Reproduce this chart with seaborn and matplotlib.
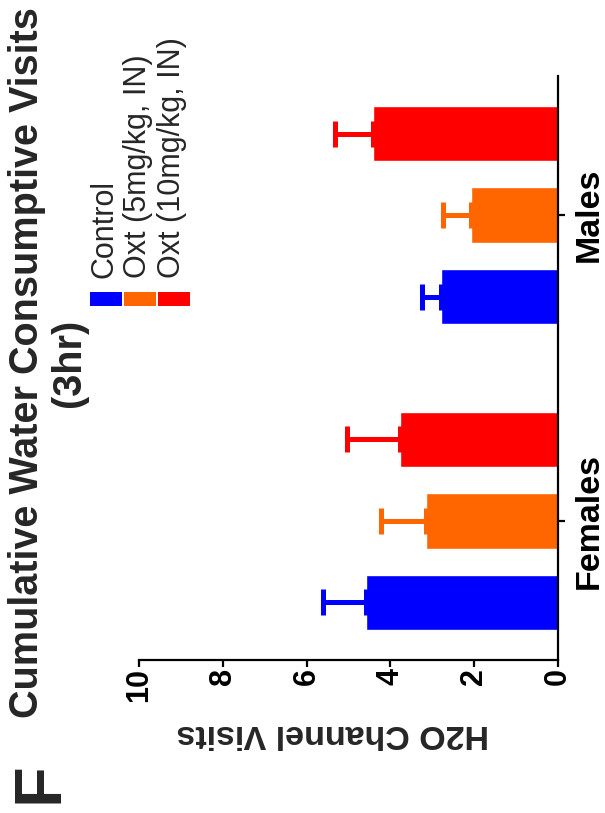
import matplotlib
matplotlib.use("Agg")
import matplotlib.pyplot as plt
from matplotlib.patches import Rectangle
import seaborn as sns
import pandas as pd
import numpy as np

# ---- data ----
sexes = ["Females", "Males"]
groups = ["Control", "Oxt (5mg/kg, IN)", "Oxt (10mg/kg, IN)"]
colors = ["#0000FF", "#FF6600", "#FF0000"]
means_females = [4.58, 3.15, 3.77]
means_males = [2.79, 2.08, 4.41]
sem_females = [1.03, 1.07, 1.27]
sem_males = [0.46, 0.66, 0.91]
value_ticks = [0, 2, 4, 6, 8, 10]

rows = []
for g, mf, mm, ef, em in zip(groups, means_females, means_males, sem_females, sem_males):
    rows.append({"sex": "Females", "group": g, "visits": mf, "err": ef})
    rows.append({"sex": "Males", "group": g, "visits": mm, "err": em})
df = pd.DataFrame(rows)

sns.set_style("ticks")
plt.rcParams["font.family"] = ["Liberation Sans", "DejaVu Sans"]

W, H = 605, 813
fig = plt.figure(figsize=(W / 100, H / 100), dpi=100)
ax = fig.add_axes([139 / W, 1 - 660 / H, (558 - 139) / W, (660 - 76) / H])

order = ["Males", "Females"]
hue_order = groups[::-1]
pal = dict(zip(groups, colors))
sns.barplot(data=df, x="visits", y="sex", hue="group", order=order,
            hue_order=hue_order, orient="h", width=0.8, gap=0.32,
            palette=pal, saturation=1, errorbar=None, legend=False, ax=ax)

# error bars (positive side only) at bar centres
for p in list(ax.patches):
    if not isinstance(p, Rectangle) or p.get_height() == 0:
        continue
    cy = p.get_y() + p.get_height() / 2
    val = p.get_width()
    sex = order[int(round(cy))]
    sub = df[(df["sex"] == sex) & (np.isclose(df["visits"], val))]
    if len(sub) == 0:
        continue
    r = sub.iloc[0]
    ax.errorbar(val, cy, xerr=[[0], [r["err"]]], fmt="none", ecolor=pal[r["group"]],
                elinewidth=3.6, capsize=9.5, capthick=3.6, zorder=1)

ax.set_xlim(10, 0)
ax.set_ylim(1.455, -0.455)
ax.set_xticks(value_ticks)
ax.set_xticklabels([str(v) for v in value_ticks], rotation=90,
                   fontsize=22, fontweight="bold")
ax.yaxis.tick_right()
ax.set_yticks([0, 1])
ax.set_yticklabels(order, rotation=90, fontsize=24.5, fontweight="bold",
                   va="center")
ax.set_ylabel("")
ax.set_xlabel("H2O Channel Visits", rotation=180, fontsize=24.5,
              fontweight="bold", va="center")
ax.xaxis.set_label_coords((333 - 139) / (558 - 139), -(733 - 660) / (660 - 76))

for s in ["left", "top"]:
    ax.spines[s].set_visible(False)
for s in ["right", "bottom"]:
    ax.spines[s].set_linewidth(1.6)
    ax.spines[s].set_color("black")
ax.tick_params(axis="x", length=5, width=1.6, pad=1, colors="black")
ax.tick_params(axis="y", length=5, width=1.6, pad=6, colors="black")

# title, panel letter
fig.text(48 / W, 1 - 363 / H, "Cumulative Water Consumptive Visits\n(3hr)",
         rotation=90, ha="center", va="center", multialignment="center",
         fontsize=28.5, fontweight="bold", linespacing=1.15)
fig.text(40 / W, 1 - 783 / H, "F", rotation=90, ha="center", va="center",
         fontsize=48, fontweight="bold")

# legend (rotated)
leg_x = [(90, 122), (124, 156), (158, 190)]
base_x = [112, 146, 180]
for (x0, x1), bx, c, g in zip(leg_x, base_x, colors, groups):
    fig.add_artist(Rectangle((x0 / W, 1 - 306 / H), (x1 - x0) / W, 14 / H,
                             transform=fig.transFigure, color=c, lw=0))
    fig.text(bx / W, 1 - 278 / H, g, rotation=90, rotation_mode="anchor",
             ha="left", va="baseline", fontsize=22)

fig.savefig("out.png", dpi=100)
